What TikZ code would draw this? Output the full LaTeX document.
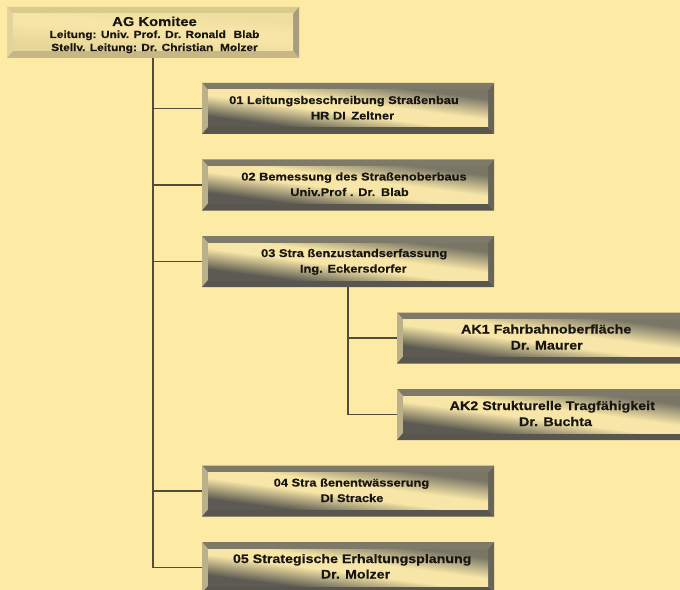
\documentclass[tikz,border=0pt]{standalone}
\usepackage{fontspec}
\newfontfamily\orgfont{Liberation Sans}[FakeStretch=1.15, BoldFont={Liberation Sans Bold}, BoldFeatures={FakeBold=0.4}]
\definecolor{bg}{RGB}{253,234,164}
\definecolor{txt}{RGB}{24,22,18}
\definecolor{conncol}{RGB}{80,76,62}
% dark boxes
\definecolor{dTop}{RGB}{126,122,105}
\definecolor{dLeft}{RGB}{186,176,138}
\definecolor{dRight}{RGB}{103,100,90}
\definecolor{dBot}{RGB}{88,86,78}
\definecolor{dFaceA}{RGB}{92,90,82}
\definecolor{dFaceM}{RGB}{247,230,167}
\definecolor{dFaceB}{RGB}{122,118,102}
% light box
\definecolor{lTop}{RGB}{217,202,142}
\definecolor{lLeft}{RGB}{227,212,156}
\definecolor{lRight}{RGB}{166,158,124}
\definecolor{lBot}{RGB}{198,183,132}
\definecolor{lFaceA}{RGB}{230,214,152}
\definecolor{lFaceM}{RGB}{246,229,167}
\definecolor{lFaceB}{RGB}{238,222,160}
\pgfdeclareverticalshading{darkface}{100bp}{color(0bp)=(dFaceA); color(25bp)=(dFaceA); color(45bp)=(dFaceM); color(57bp)=(dFaceM); color(77bp)=(dFaceB); color(100bp)=(dFaceB)}
\pgfdeclareverticalshading{lightface}{100bp}{color(0bp)=(lFaceA); color(25bp)=(lFaceA); color(50bp)=(lFaceM); color(60bp)=(lFaceM); color(75bp)=(lFaceB); color(100bp)=(lFaceB)}
\newcommand\bevelpaint[4]{%
  \coordinate (bNW) at (path picture bounding box.north west);
  \coordinate (bNE) at (path picture bounding box.north east);
  \coordinate (bSW) at (path picture bounding box.south west);
  \coordinate (bSE) at (path picture bounding box.south east);
  \coordinate (iNW) at ([shift={(6,7)}]bNW);
  \coordinate (iNE) at ([shift={(-6,7)}]bNE);
  \coordinate (iSW) at ([shift={(6,-7)}]bSW);
  \coordinate (iSE) at ([shift={(-6,-7)}]bSE);
  \fill[#1] (bNW) -- (bNE) -- (iNE) -- (iNW) -- cycle;
  \fill[#2] (bNW) -- (iNW) -- (iSW) -- (bSW) -- cycle;
  \fill[#3] (bNE) -- (bSE) -- (iSE) -- (iNE) -- cycle;
  \fill[#4] (bSW) -- (bSE) -- (iSE) -- (iSW) -- cycle;
}
% face of a box: a square shading stretched onto the 280 x 37 face
\newcommand\boxface[3]{%
  \begin{scope}[transform canvas={shift={(#1.center)}, xscale=2.8, yscale=0.37}]
    \shade[shading=#2, shading angle=#3] (-50bp,-50bp) rectangle (50bp,50bp);
  \end{scope}}
\tikzset{
  orgbase/.style={rectangle, inner sep=0pt, outer sep=0pt,
    minimum width=292bp, minimum height=51bp, anchor=north west},
  darkbox/.style={orgbase, path picture={\bevelpaint{dTop}{dLeft}{dRight}{dBot}}},
  lightbox/.style={orgbase, path picture={\bevelpaint{lTop}{lLeft}{lRight}{lBot}}},
  conn/.style={draw=conncol, line width=1.2bp},
  lbl/.style={anchor=base, inner sep=0pt, outer sep=0pt, text=txt},
  tS/.style={lbl, font=\orgfont\bfseries\fontsize{11.2}{13}\selectfont},
  tM/.style={lbl, font=\orgfont\bfseries\fontsize{12.4}{14}\selectfont},
  tA/.style={lbl, font=\orgfont\bfseries\fontsize{12.5}{14}\selectfont},
  tH/.style={lbl, font=\orgfont\bfseries\fontsize{12.9}{14}\selectfont},
  tL/.style={lbl, font=\orgfont\bfseries\fontsize{10.4}{12}\selectfont},
}
\begin{document}
\begin{tikzpicture}[x=1bp, y=-1bp]
\useasboundingbox (0,0) rectangle (680,590);
\clip (0,0) rectangle (680,590);
\fill[bg] (0,0) rectangle (680,590);

% boxes
\node[lightbox] (ag) at (7,7) {};
\node[darkbox] (b1) at (202,83) {};
\node[darkbox] (b2) at (202,159.5) {};
\node[darkbox] (b3) at (202,236) {};
\node[darkbox] (ak1) at (397,312.5) {};
\node[darkbox] (ak2) at (397,389) {};
\node[darkbox] (b4) at (202,465.5) {};
\node[darkbox] (b5) at (202,542) {};

\boxface{ag}{lightface}{-30}
\boxface{b1}{darkface}{-45}
\boxface{b2}{darkface}{-45}
\boxface{b3}{darkface}{-45}
\boxface{ak1}{darkface}{-45}
\boxface{ak2}{darkface}{-45}
\boxface{b4}{darkface}{-45}
\boxface{b5}{darkface}{-45}

% connectors
\draw[conn] (ag.south) |- (b5.west);
\draw[conn] (ag.south |- b1.west) -- (b1.west);
\draw[conn] (ag.south |- b2.west) -- (b2.west);
\draw[conn] (ag.south |- b3.west) -- (b3.west);
\draw[conn] (ag.south |- b4.west) -- (b4.west);
\draw[conn] (b3.south) |- (ak2.west);
\draw[conn] (b3.south |- ak1.west) -- (ak1.west);

% texts
\node[tH] (agt1) at ([shift={(147.5,19)}]ag.north west) {AG Komitee};
\node[tL] (agt2) at ([shift={(147.5,31)}]ag.north west) {Leitung: Univ. Prof. Dr. Ronald\hspace{0.75em}Blab};
\node[tL] (agt3) at ([shift={(147.5,44)}]ag.north west) {Stellv. Leitung: Dr. Christian\hspace{0.65em}Molzer};

\node[tS] (b1t1) at ([shift={(142,21)}]b1.north west) {01 Leitungsbeschreibung Straßenbau};
\node[tS] (b1t2) at ([shift={(150.5,36.5)}]b1.north west) {HR DI\hspace{0.5em}Zeltner};

\node[tS] (b2t1) at ([shift={(152,21)}]b2.north west) {02 Bemessung des Straßenoberbaus};
\node[tS] (b2t2) at ([shift={(147.5,36.5)}]b2.north west) {Univ.Prof . Dr.\hspace{0.5em}Blab};

\node[tS] (b3t1) at ([shift={(152.2,21)}]b3.north west) {03 Stra ßenzustandserfassung};
\node[tS] (b3t2) at ([shift={(151.3,36.5)}]b3.north west) {Ing. Eckersdorfer};

\node[tA] (ak1t1) at ([shift={(149.2,21)}]ak1.north west) {AK1 Fahrbahnoberfläche};
\node[tA] (ak1t2) at ([shift={(149.7,37)}]ak1.north west) {Dr. Maurer};

\node[tA] (ak2t1) at ([shift={(155.3,21)}]ak2.north west) {AK2 Strukturelle Tragfähigkeit};
\node[tA] (ak2t2) at ([shift={(158.5,37)}]ak2.north west) {Dr. Buchta};

\node[tS] (b4t1) at ([shift={(149.5,21)}]b4.north west) {04 Stra ßenentwässerung};
\node[tS] (b4t2) at ([shift={(150,36.5)}]b4.north west) {DI Stracke};

\node[tM] (b5t1) at ([shift={(150.2,21)}]b5.north west) {05 Strategische Erhaltungsplanung};
\node[tM] (b5t2) at ([shift={(153.5,36.5)}]b5.north west) {Dr. Molzer};
\end{tikzpicture}
\end{document}
